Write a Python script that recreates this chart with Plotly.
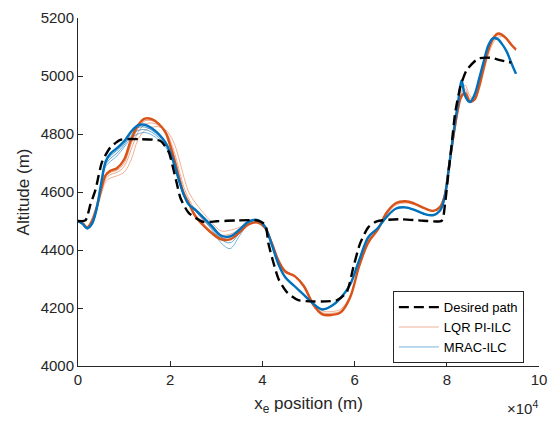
import plotly.graph_objects as go

# Reference altitude profile along the track (x in metres)
desired_x = [0, 1600, 2700, 3800, 5200, 7000, 9200, 13500, 17900, 19700, 20400,
             21500, 22200, 24000, 27200, 30100, 34500, 38800, 40600, 41300, 42400,
             43500, 45300, 47800, 56200, 58300, 59800, 61200, 63000, 64800, 69900,
             74900, 78900, 79600, 80300, 81100, 81800, 82900, 84300, 86800, 89400,
             91500, 94000]
desired_alt = [4500, 4502, 4557, 4608, 4703, 4753, 4780, 4782, 4776, 4737, 4698,
               4625, 4580, 4528, 4497, 4499, 4502, 4502, 4488, 4423, 4356,
               4300, 4255, 4227, 4227, 4255, 4345, 4423, 4479, 4499, 4506,
               4501, 4501, 4557, 4658, 4770, 4871, 4960, 5020, 5060, 5063,
               5055, 5046]

# Common sample positions of the simulated flights (m)
track_x = [0, 1000, 2000, 3000, 4000, 5000, 6000, 7000, 8500, 10000, 11500, 13000,
           14500, 16000, 17500, 19000, 20000, 21000, 22000, 23000, 24000, 25500,
           27000, 29000, 31000, 33000, 35000, 37000, 39000, 40500, 42000, 43500,
           45000, 47000, 49000, 51000, 53000, 55000, 57000, 59000, 61000, 63000,
           65000, 67000, 69000, 71000, 73000, 75000, 77000, 78500, 79500, 80500,
           81500, 82500, 83200, 84000, 85000, 86000, 87000, 88000, 89000, 90000,
           91000, 92000, 93000, 94000, 95000]

# LQR PI-ILC: earlier iterations, then the final iteration
lqr_iter1 = [4500, 4493, 4480, 4497, 4536, 4590, 4635, 4648, 4656, 4668, 4710, 4780,
             4812, 4823, 4825, 4815, 4795, 4762, 4710, 4650, 4600, 4562, 4532, 4495,
             4466, 4468, 4478, 4490, 4494, 4478, 4430, 4368, 4330, 4312, 4280, 4222,
             4190, 4188, 4196, 4243, 4340, 4420, 4465, 4522, 4555, 4562, 4556, 4543,
             4534, 4546, 4578, 4675, 4785, 4880, 4950, 4968, 4932, 4922, 4952, 5012,
             5072, 5112, 5132, 5136, 5126, 5106, 5086]
lqr_iter2 = [4500, 4492, 4479, 4498, 4540, 4598, 4645, 4660, 4668, 4688, 4745, 4805,
             4833, 4838, 4830, 4810, 4778, 4732, 4672, 4615, 4578, 4535, 4505, 4475,
             4452, 4455, 4470, 4490, 4495, 4478, 4428, 4365, 4328, 4311, 4278, 4217,
             4184, 4182, 4190, 4238, 4342, 4424, 4468, 4526, 4559, 4565, 4558, 4544,
             4535, 4547, 4582, 4682, 4792, 4886, 4940, 4955, 4922, 4920, 4958, 5020,
             5080, 5120, 5140, 5140, 5127, 5107, 5089]
lqr_iter3 = [4500, 4492, 4478, 4499, 4543, 4604, 4652, 4667, 4676, 4700, 4765, 4820,
             4845, 4846, 4833, 4807, 4768, 4715, 4655, 4600, 4568, 4522, 4494, 4464,
             4443, 4444, 4464, 4489, 4495, 4478, 4426, 4363, 4326, 4310, 4276, 4214,
             4180, 4178, 4187, 4236, 4344, 4426, 4469, 4528, 4561, 4567, 4559, 4545,
             4535, 4548, 4584, 4687, 4797, 4890, 4935, 4946, 4915, 4918, 4962, 5025,
             5086, 5125, 5144, 5142, 5128, 5108, 5091]
lqr_final = [4500, 4492, 4478, 4500, 4545, 4608, 4658, 4673, 4683, 4712, 4780, 4830,
             4853, 4851, 4835, 4805, 4760, 4705, 4643, 4592, 4562, 4515, 4488, 4458,
             4437, 4437, 4460, 4488, 4495, 4478, 4425, 4362, 4325, 4310, 4275, 4212,
             4178, 4176, 4185, 4235, 4345, 4428, 4470, 4530, 4562, 4568, 4560, 4545,
             4535, 4548, 4585, 4690, 4800, 4893, 4930, 4940, 4912, 4918, 4965, 5030,
             5090, 5128, 5146, 5142, 5128, 5108, 5092]

# MRAC-ILC: earlier iterations, then the final iteration
mrac_iter1 = [4500, 4488, 4472, 4485, 4530, 4612, 4688, 4705, 4725, 4755, 4785, 4800,
              4805, 4797, 4780, 4755, 4725, 4682, 4630, 4585, 4555, 4533, 4508, 4470,
              4425, 4405, 4448, 4492, 4503, 4483, 4422, 4352, 4306, 4276, 4246, 4216,
              4197, 4209, 4237, 4283, 4368, 4442, 4477, 4516, 4542, 4546, 4537, 4524,
              4519, 4533, 4575, 4682, 4800, 4905, 4970, 4935, 4915, 4937, 4990, 5048,
              5102, 5127, 5126, 5109, 5083, 5046, 5010]
mrac_iter2 = [4500, 4489, 4473, 4487, 4535, 4620, 4695, 4715, 4735, 4762, 4795, 4812,
              4815, 4806, 4788, 4762, 4730, 4685, 4632, 4586, 4556, 4535, 4511, 4476,
              4437, 4425, 4458, 4495, 4503, 4482, 4421, 4351, 4305, 4275, 4245, 4215,
              4196, 4208, 4236, 4281, 4366, 4441, 4476, 4515, 4542, 4546, 4537, 4524,
              4519, 4534, 4578, 4686, 4805, 4910, 4978, 4932, 4912, 4936, 4990, 5049,
              5104, 5129, 5127, 5110, 5084, 5045, 5009]
mrac_iter3 = [4500, 4490, 4474, 4488, 4538, 4625, 4700, 4724, 4744, 4768, 4802, 4822,
              4824, 4813, 4794, 4766, 4734, 4688, 4634, 4587, 4557, 4537, 4513, 4480,
              4444, 4437, 4465, 4497, 4503, 4482, 4420, 4350, 4305, 4275, 4245, 4215,
              4195, 4207, 4235, 4280, 4365, 4440, 4475, 4515, 4543, 4547, 4538, 4525,
              4520, 4535, 4579, 4688, 4807, 4912, 4980, 4931, 4911, 4935, 4990, 5050,
              5105, 5130, 5128, 5110, 5084, 5045, 5008]
mrac_final = [4500, 4490, 4475, 4490, 4540, 4628, 4705, 4732, 4752, 4775, 4808, 4830,
              4832, 4820, 4800, 4770, 4737, 4690, 4635, 4588, 4558, 4538, 4515, 4483,
              4450, 4447, 4470, 4498, 4503, 4482, 4420, 4350, 4305, 4275, 4245, 4215,
              4195, 4207, 4235, 4280, 4365, 4445, 4475, 4515, 4543, 4547, 4538, 4525,
              4520, 4535, 4580, 4690, 4810, 4916, 4985, 4930, 4910, 4935, 4990, 5050,
              5105, 5130, 5128, 5110, 5084, 5045, 5008]

x_tick_vals = [0, 20000, 40000, 60000, 80000, 100000]
x_tick_text = ["0", "2", "4", "6", "8", "10"]
y_tick_vals = [4000, 4200, 4400, 4600, 4800, 5000, 5200]

BLUE = "#0072BD"
ORANGE = "#D95319"
INK = "#262626"
FONT = "Liberation Sans, Arial, Helvetica, sans-serif"

fig = go.Figure()

def add_line(y, color, width, name=None, show=False, rank=1000):
    fig.add_trace(go.Scatter(
        x=track_x, y=y, mode="lines", name=name, showlegend=show,
        legendrank=rank, hoverinfo="skip",
        line=dict(color=color, width=width, shape="spline", smoothing=1.0)))

# earlier iterations drawn thin and faint
add_line(lqr_iter1, "rgba(217,83,25,0.50)", 0.9, "LQR PI-ILC", True, 2)
add_line(lqr_iter2, "rgba(217,83,25,0.55)", 0.9)
add_line(lqr_iter3, "rgba(217,83,25,0.65)", 0.9)
add_line(mrac_iter1, "rgba(0,114,189,0.60)", 0.9, "MRAC-ILC", True, 3)
add_line(mrac_iter2, "rgba(0,114,189,0.70)", 0.9)
add_line(mrac_iter3, "rgba(0,114,189,0.80)", 0.9)
# final iterations drawn thick
add_line(lqr_final, ORANGE, 2.4)
add_line(mrac_final, BLUE, 2.4)

fig.add_trace(go.Scatter(
    x=desired_x, y=desired_alt, mode="lines", name="Desired path",
    legendrank=1, hoverinfo="skip",
    line=dict(color="black", width=2.4, dash="10px,5px", shape="spline", smoothing=0.6)))

axis_common = dict(
    showline=True, linecolor=INK, linewidth=1, mirror=False,
    ticks="inside", ticklen=5, tickwidth=1, tickcolor=INK,
    showgrid=False, zeroline=False,
    tickfont=dict(family=FONT, size=15, color=INK),
)

fig.update_layout(
    width=558, height=428,
    margin=dict(l=78, r=19, t=9, b=62),
    plot_bgcolor="white", paper_bgcolor="white",
    font=dict(family=FONT, color=INK),
    xaxis=dict(range=[0, 100000], tickvals=x_tick_vals, ticktext=x_tick_text,
               title=dict(text="x<sub>e</sub> position (m)",
                          font=dict(family=FONT, size=17, color=INK), standoff=10),
               **axis_common),
    yaxis=dict(range=[4000, 5200], tickvals=y_tick_vals,
               title=dict(text="Altitude (m)",
                          font=dict(family=FONT, size=17, color=INK), standoff=6),
               **axis_common),
    legend=dict(x=0.683, y=0.215, xanchor="left", yanchor="top",
                bgcolor="white", bordercolor=INK, borderwidth=1,
                font=dict(family=FONT, size=13, color="black"),
                tracegroupgap=0, itemwidth=40),
    annotations=[dict(text="\u00d710<sup>4</sup>", xref="paper", yref="paper",
                      x=1.002, y=-0.118, xanchor="right", yanchor="middle",
                      showarrow=False, font=dict(family=FONT, size=15, color=INK))],
)

fig.write_html("out.html")
